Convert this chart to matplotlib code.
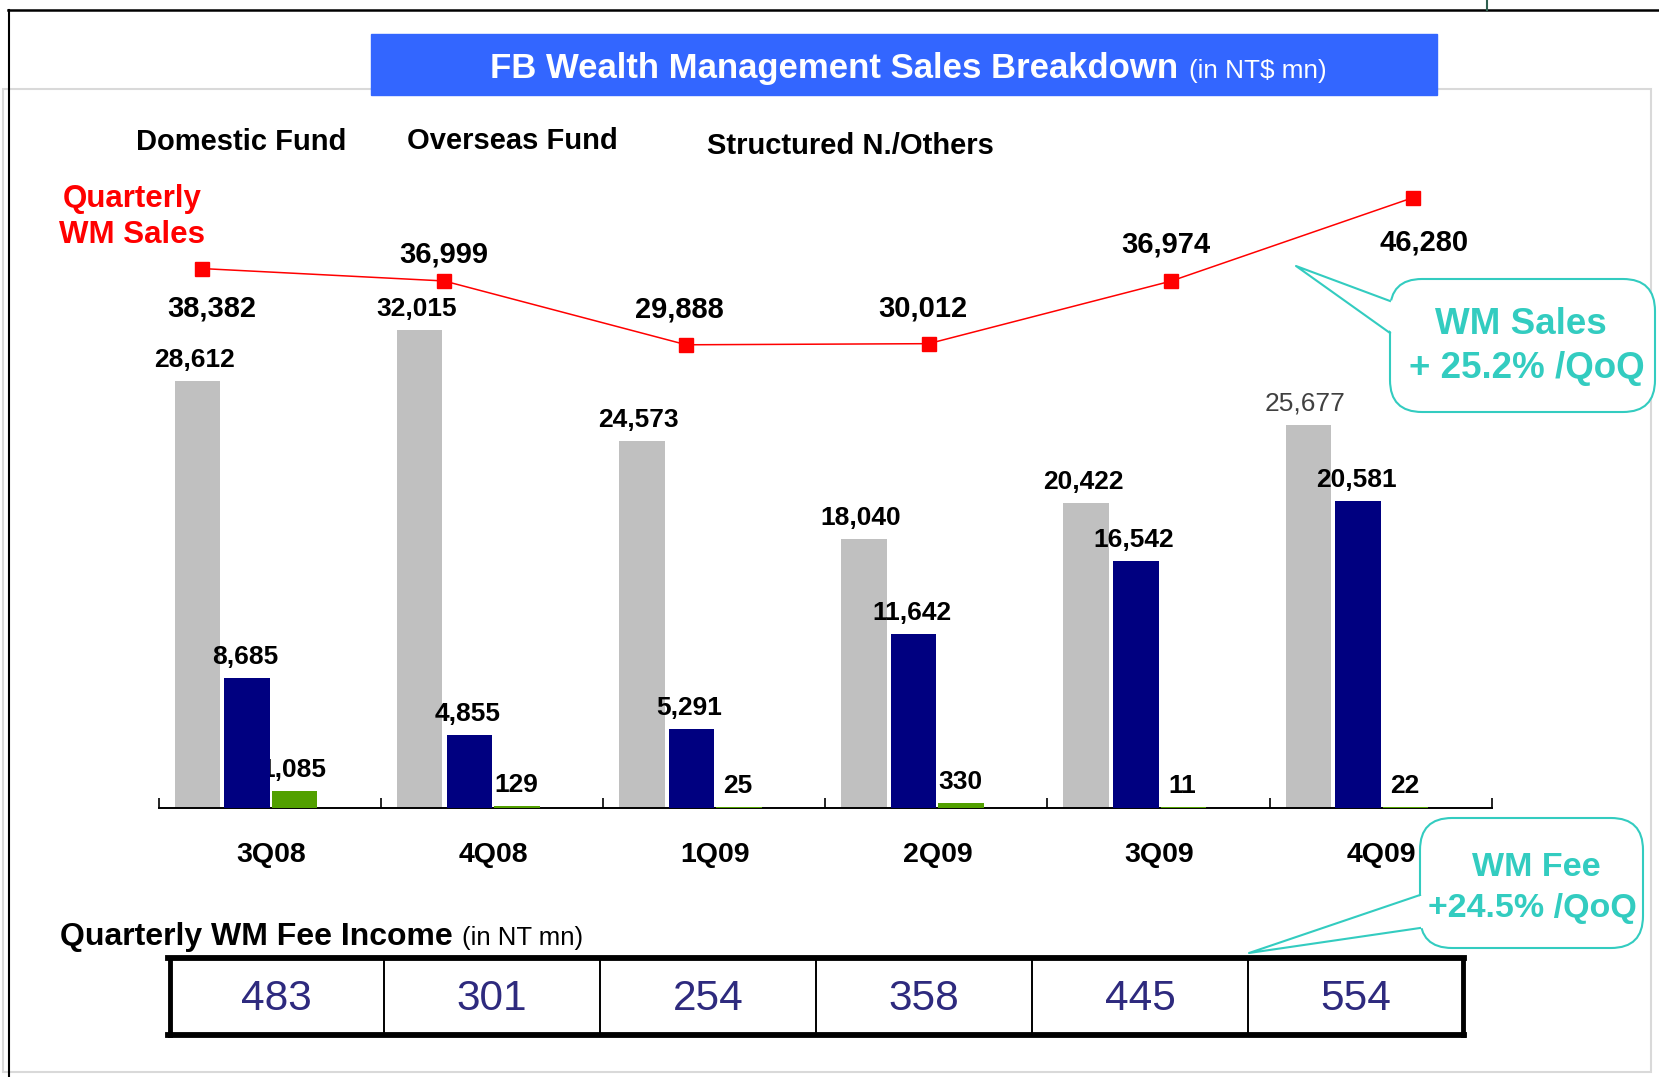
import matplotlib.pyplot as plt
import numpy as np
from matplotlib.patches import FancyBboxPatch, Polygon, Rectangle

plt.rcParams['font.family'] = ['Liberation Sans', 'DejaVu Sans']

# data
quarters = ['3Q08', '4Q08', '1Q09', '2Q09', '3Q09', '4Q09']
domestic = [28612, 32015, 24573, 18040, 20422, 25677]
overseas = [8685, 4855, 5291, 11642, 16542, 20581]
structured = [1085, 129, 25, 330, 11, 22]
wm_sales = [38382, 36999, 29888, 30012, 36974, 46280]
fee_income = [483, 301, 254, 358, 445, 554]
series_names = ['Domestic Fund', 'Overseas Fund', 'Structured N./Others']

W, H = 1659, 1077
fig = plt.figure(figsize=(W / 100, H / 100), dpi=100)


def rect(l, t, r, b):
    # pixel box (from top-left) -> figure fraction rect
    return [l / W, 1 - b / H, (r - l) / W, (b - t) / H]


# ---- bars ----
ax = fig.add_axes(rect(158.7, 211.2, 1491.8, 807.5))
ax.set_facecolor('none')
x = np.arange(len(quarters))
bw = 0.205
ax.bar(x - 0.326, domestic, bw, color='#C0C0C0', zorder=1)
ax.bar(x - 0.102, overseas, bw, color='#000080', zorder=3)
ax.bar(x + 0.112, structured, bw, color='#52A000', zorder=3)
ax.set_xlim(-0.5, 5.5)
ax.set_ylim(0, 40000)
ax.set_yticks([])
ax.set_xticks(np.arange(-0.5, 6, 1))
ax.tick_params(axis='x', direction='in', length=7, width=1.2, labelbottom=False)
for s in ['top', 'left', 'right']:
    ax.spines[s].set_visible(False)
ax.spines['bottom'].set_linewidth(1.4)

for i in range(len(quarters)):
    last = i == len(quarters) - 1
    ax.annotate(f'{domestic[i]:,}', (x[i] - 0.326, domestic[i]), xytext=(-3, 14),
                textcoords='offset pixels', ha='center', va='baseline', fontsize=19,
                fontweight='normal' if last else 'bold',
                color='#404040' if last else 'black', zorder=2)
    ax.annotate(f'{overseas[i]:,}', (x[i] - 0.102, overseas[i]), xytext=(-2, 14),
                textcoords='offset pixels', ha='center', va='baseline', fontsize=19,
                fontweight='bold', zorder=2)
    ax.annotate(f'{structured[i]:,}', (x[i] + 0.112, structured[i]), xytext=(-1, 14),
                textcoords='offset pixels', ha='center', va='baseline', fontsize=19,
                fontweight='bold', zorder=2)
    ax.annotate(quarters[i], (x[i], 0), xytext=(1, -48), textcoords='offset pixels',
                ha='center', va='center', fontsize=20.5, fontweight='bold',
                annotation_clip=False)

# ---- line ----
lax = fig.add_axes(rect(80.9, 164.3, 1534, 613))
lax.set_facecolor('none')
lax.plot(x, wm_sales, color='red', lw=1.1, marker='s', ms=10.5, mec='red', mfc='red')
lax.set_xlim(-0.5, 5.5)
lax.set_ylim(0, 50000)
lax.axis('off')
label_offsets = [(10, -40), (0, 26), (-7, 35), (-6, 35), (-5, 37), (11, -45)]
for i, v in enumerate(wm_sales):
    lax.annotate(f'{v:,}', (x[i], v), xytext=label_offsets[i], textcoords='offset pixels',
                 ha='center', va='center', fontsize=21, fontweight='bold',
                 annotation_clip=False)

# ---- overlay in pixel coordinates ----
ov = fig.add_axes([0, 0, 1, 1])
ov.set_xlim(0, W)
ov.set_ylim(H, 0)
ov.axis('off')
ov.set_facecolor('none')

# frame
ov.add_patch(Rectangle((3, 89), 1648, 983, fill=False, ec='#D9D9D9', lw=1.5, zorder=0))
ov.plot([8, W], [10, 10], color='black', lw=1.8)
ov.plot([8.5, 8.5], [10, H], color='black', lw=1.5)
ov.plot([1487, 1487], [0, 10], color='#2F5F4F', lw=1.5)

# title box
ov.add_patch(Rectangle((371, 34), 1066, 61, color='#3366FF', zorder=1))
ov.text(834, 78, 'FB Wealth Management Sales Breakdown', ha='center', va='baseline',
        fontsize=25, fontweight='bold', color='white', zorder=2)
ov.text(1189, 78, '(in NT$ mn)', ha='left', va='baseline', fontsize=18.8,
        color='white', zorder=2)

# series names
for name, (tx, ty) in zip(series_names, [(241, 142), (512, 141), (850, 146)]):
    ov.text(tx, ty, name, ha='center', va='center', fontsize=21, fontweight='bold')

ov.text(132, 217, 'Quarterly\nWM Sales', ha='center', va='center', fontsize=22.5,
        fontweight='bold', color='#FF0000', linespacing=1.28)

# callouts
teal = '#33CCC0'


def callout(box, tip, b1, b2, lines, size):
    l, t, w, h = box
    ov.add_patch(FancyBboxPatch((l, t), w, h, boxstyle='round,pad=0,rounding_size=32',
                                fc='white', ec=teal, lw=1.5, zorder=5))
    ov.add_patch(Polygon([tip, (b1[0] + 3, b1[1]), (b2[0] + 3, b2[1])], closed=True,
                         fc='white', ec='none', zorder=6))
    ov.plot([b1[0], tip[0], b2[0]], [b1[1], tip[1], b2[1]], color=teal, lw=1.5, zorder=7)
    for (tx, ty), s in lines:
        ov.text(tx, ty, s, ha='center', va='center', fontsize=size, fontweight='bold',
                color=teal, zorder=8)


callout((1390, 279, 265, 133), (1296, 266), (1390, 301), (1390, 333),
        [((1521, 325), 'WM Sales'), ((1527, 369), '+ 25.2% /QoQ')], 26.5)
callout((1420, 818, 223, 130), (1249, 953), (1420, 895), (1420, 928),
        [((1536, 867), 'WM Fee'), ((1532, 909), '+24.5% /QoQ')], 24.5)

# fee income table
ov.text(60, 945, 'Quarterly WM Fee Income', ha='left', va='baseline', fontsize=23,
        fontweight='bold')
ov.text(462, 945, '(in NT mn)', ha='left', va='baseline', fontsize=18.5)
tl, tr, tt, tb = 168, 1464, 958, 1035
cw = (tr - tl) / len(fee_income)
for k in range(1, len(fee_income)):
    ov.plot([tl + cw * k] * 2, [tt, tb], color='black', lw=1.4, zorder=3)
ov.plot([tl, tr], [tt, tt], color='black', lw=4.2, zorder=4, solid_capstyle='projecting')
ov.plot([tl, tr], [tb, tb], color='black', lw=4.2, zorder=4, solid_capstyle='projecting')
ov.plot([tl + 1.5, tl + 1.5], [tt, tb], color='black', lw=3.5, zorder=4)
ov.plot([tr - 1.5, tr - 1.5], [tt, tb], color='black', lw=3.5, zorder=4)
for k, v in enumerate(fee_income):
    ov.text(tl + cw * (k + 0.5), 999, str(v), ha='center', va='center', fontsize=30.5,
            color='#2E2A7E')

fig.savefig('out.png', dpi=100)
